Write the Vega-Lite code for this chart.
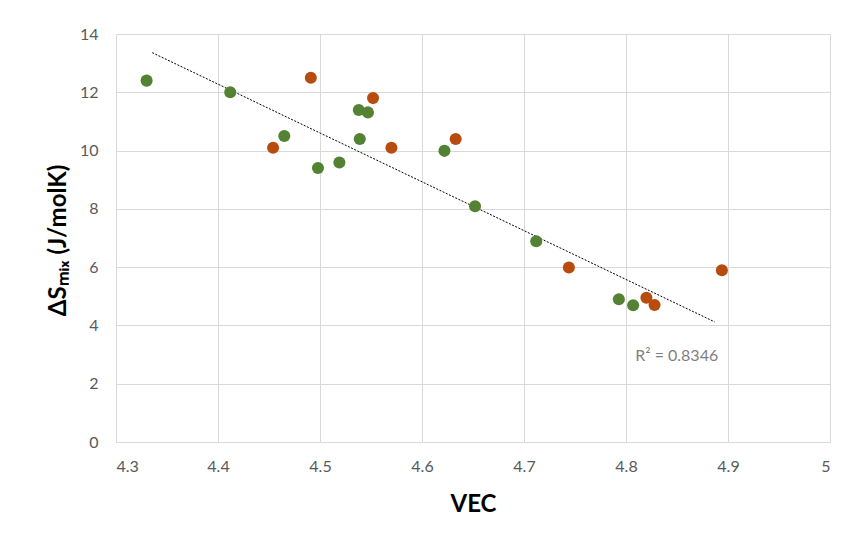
{
  "$schema": "https://vega.github.io/schema/vega-lite/v6.json",
  "autosize": "none",
  "width": 714,
  "height": 408,
  "padding": {"left": 116, "top": 34, "right": 16, "bottom": 97},
  "background": "white",
  "config": {
    "view": {"stroke": null},
    "font": "Lato",
    "axis": {
      "grid": true,
      "gridColor": "#d9d9d9",
      "gridWidth": 1,
      "domain": false,
      "ticks": false,
      "labelFont": "Lato",
      "labelFontSize": 16,
      "labelColor": "#595959",
      "titleFont": "Lato",
      "titleFontWeight": "bold",
      "titleColor": "#000000"
    }
  },
  "datasets": {
    "points": [
      {"VEC": 4.330, "dS": 12.40, "series": "Series 1"},
      {"VEC": 4.412, "dS": 12.00, "series": "Series 1"},
      {"VEC": 4.465, "dS": 10.50, "series": "Series 1"},
      {"VEC": 4.498, "dS": 9.40, "series": "Series 1"},
      {"VEC": 4.519, "dS": 9.59, "series": "Series 1"},
      {"VEC": 4.538, "dS": 11.39, "series": "Series 1"},
      {"VEC": 4.547, "dS": 11.31, "series": "Series 1"},
      {"VEC": 4.539, "dS": 10.40, "series": "Series 1"},
      {"VEC": 4.622, "dS": 9.99, "series": "Series 1"},
      {"VEC": 4.652, "dS": 8.09, "series": "Series 1"},
      {"VEC": 4.712, "dS": 6.89, "series": "Series 1"},
      {"VEC": 4.793, "dS": 4.90, "series": "Series 1"},
      {"VEC": 4.807, "dS": 4.69, "series": "Series 1"},
      {"VEC": 4.454, "dS": 10.10, "series": "Series 2"},
      {"VEC": 4.491, "dS": 12.50, "series": "Series 2"},
      {"VEC": 4.552, "dS": 11.80, "series": "Series 2"},
      {"VEC": 4.570, "dS": 10.10, "series": "Series 2"},
      {"VEC": 4.633, "dS": 10.40, "series": "Series 2"},
      {"VEC": 4.744, "dS": 5.99, "series": "Series 2"},
      {"VEC": 4.820, "dS": 4.95, "series": "Series 2"},
      {"VEC": 4.828, "dS": 4.70, "series": "Series 2"},
      {"VEC": 4.894, "dS": 5.89, "series": "Series 2"}
    ],
    "trend": [
      {"VEC": 4.3355, "dS": 13.36},
      {"VEC": 4.887, "dS": 4.12}
    ],
    "note": [
      {"VEC": 4.809, "dS": 2.94, "label": "R² = 0.8346"}
    ]
  },
  "layer": [
    {
      "data": {"name": "trend"},
      "mark": {"type": "line", "color": "#000000", "strokeWidth": 1, "strokeDash": [2, 1.5]},
      "encoding": {
        "x": {
          "field": "VEC", "type": "quantitative",
          "scale": {"domain": [4.3, 5], "nice": false, "zero": false},
          "axis": {
            "values": [4.3, 4.4, 4.5, 4.6, 4.7, 4.8, 4.9, 5],
            "format": "~g",
            "labelPadding": 16,
            "title": "VEC",
            "titleFontSize": 24,
            "titleBaseline": "middle",
            "titleX": 357,
            "titleY": 62
          }
        },
        "y": {
          "field": "dS", "type": "quantitative",
          "scale": {"domain": [0, 14], "nice": false},
          "axis": {
            "values": [0, 2, 4, 6, 8, 10, 12, 14],
            "labelPadding": 18,
            "title": "ΔSₘᵢₓ (J/molK)",
            "titleFontSize": 24,
            "titleAngle": -90,
            "titleBaseline": "middle",
            "titleAlign": "center",
            "titleX": -58,
            "titleY": 206
          }
        }
      }
    },
    {
      "data": {"name": "points"},
      "mark": {"type": "circle", "size": 145, "opacity": 1},
      "encoding": {
        "x": {"field": "VEC", "type": "quantitative"},
        "y": {"field": "dS", "type": "quantitative"},
        "color": {
          "field": "series", "type": "nominal",
          "scale": {"domain": ["Series 1", "Series 2"], "range": ["#528232", "#B84C0E"]},
          "legend": null
        }
      }
    },
    {
      "data": {"name": "note"},
      "mark": {"type": "text", "align": "left", "baseline": "middle", "fontSize": 16, "color": "#7f7f7f", "font": "Lato"},
      "encoding": {
        "x": {"field": "VEC", "type": "quantitative"},
        "y": {"field": "dS", "type": "quantitative"},
        "text": {"field": "label"}
      }
    }
  ]
}
